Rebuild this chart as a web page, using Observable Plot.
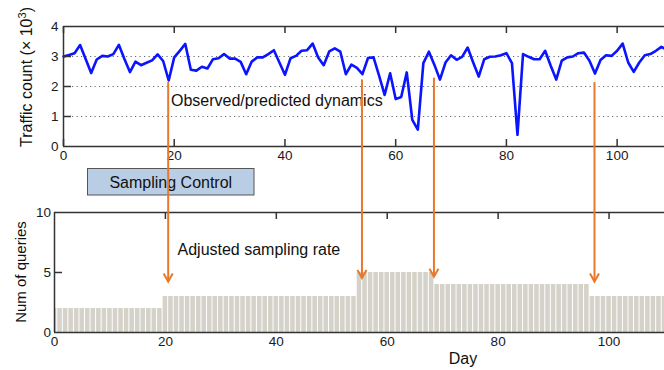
<!DOCTYPE html>
<html><head><meta charset="utf-8">
<script src="https://cdn.jsdelivr.net/npm/d3@7"></script>
<script src="https://cdn.jsdelivr.net/npm/@observablehq/plot@0.6"></script>
<style>
html,body{margin:0;padding:0;background:#fff;overflow:hidden;}
#wrap{position:relative;width:664px;height:370px;overflow:hidden;font-family:"Liberation Sans",Arial,sans-serif;}
#wrap > .layer{position:absolute;left:0;}
</style></head><body><div id="wrap"></div>
<script>
// ---- data ----
// traffic count (x10^3), one value per day starting at day 0
const traffic = [
  3.00, 3.05, 3.11, 3.38, 2.92, 2.45, 2.90, 3.02, 3.00, 3.08,
  3.39, 2.92, 2.48, 2.83, 2.71, 2.79, 2.87, 3.07, 2.85, 2.20,
  2.97, 3.19, 3.42, 2.56, 2.53, 2.66, 2.60, 2.91, 2.94, 3.08,
  2.93, 2.93, 2.82, 2.41, 2.83, 2.97, 2.97, 3.08, 3.21, 2.80,
  2.39, 2.94, 3.02, 3.19, 3.21, 3.43, 2.97, 2.71, 3.17, 3.27,
  3.16, 2.41, 2.73, 2.62, 2.41, 2.95, 2.97, 2.36, 1.72, 2.44,
  1.58, 1.65, 2.47, 0.89, 0.56, 2.78, 3.16, 2.72, 2.23, 2.80,
  3.04, 2.89, 2.99, 3.30, 2.80, 2.33, 2.91, 2.99, 3.00, 3.04,
  3.11, 2.78, 0.39, 3.08, 2.99, 2.91, 2.91, 3.19, 2.69, 2.23,
  2.86, 2.97, 3.00, 3.11, 3.13, 2.86, 2.43, 2.88, 3.04, 3.02,
  3.19, 3.43, 2.80, 2.49, 2.80, 3.04, 3.08, 3.19, 3.32, 3.22
];
// number of queries per day (adjusted sampling rate), day 0 .. 110
const queries = [
  2,2,2,2,2,2,2,2,2,2, 2,2,2,2,2,2,2,2,2,2,
  3,3,3,3,3,3,3,3,3,3, 3,3,3,3,3,3,3,3,3,3,
  3,3,3,3,3,3,3,3,3,3, 3,3,3,3,3,5,5,5,5,5,
  5,5,5,5,5,5,5,5,5,4, 4,4,4,4,4,4,4,4,4,4,
  4,4,4,4,4,4,4,4,4,4, 4,4,4,4,4,4,4,3,3,3,
  3,3,3,3,3,3,3,3,3,3, 3
];
const xTicks = [0, 20, 40, 60, 80, 100];
const topYTicks = [0, 1, 2, 3, 4];
const topGrid = [1, 2, 3];
const bottomYTicks = [0, 5, 10];
// control arrows: day in top chart, start value (top chart), tip value (bottom chart)
const arrowDays = [19, 54, 67, 96];
const arrowFrom = [2.13, 2.22, 2.28, 2.13];
const arrowTo = [4.2, 4.5, 4.6, 4.2];

const labels = {
  topYMain: "Traffic count (× 10",
  topYSup: "3",
  topYEnd: ")",
  bottomY: "Num of queries",
  x: "Day",
  observed: "Observed/predicted dynamics",
  adjusted: "Adjusted sampling rate",
  control: "Sampling Control"
};

const FONT = '"Liberation Sans", Arial, sans-serif';
const AX = "#333";
const ORANGE = "#e8782a";
const intFmt = d => String(d);

const trafficData = traffic.map((v, i) => ({day: i, v}));
const queryData = queries.map((n, i) => ({day: i, n}));

const TOP_OFFSET = 0, BOTTOM_OFFSET = 200;
const TICK = 7;

// top chart geometry
const T = {width: 672, height: 170, ml: 63, mr: 0, mt: 26, mb: 24};
const Tin = {w: T.width - T.ml - T.mr, h: T.height - T.mt - T.mb};
const topPlot = Plot.plot({
  width: T.width, height: T.height,
  marginLeft: T.ml, marginRight: T.mr, marginTop: T.mt, marginBottom: T.mb,
  style: {fontFamily: FONT, fontSize: "13px", color: "#1a1a1a", maxWidth: "none", background: "transparent", overflow: "visible"},
  x: {domain: [0, 110], label: null},
  y: {domain: [0, 4], label: null},
  marks: [
    Plot.ruleY(topGrid, {stroke: "#666", strokeDasharray: "1.2,3.3", strokeWidth: 1}),
    Plot.line(trafficData, {x: "day", y: "v", stroke: "#0a14ff", strokeWidth: 2.6}),
    Plot.tickX(xTicks, {x: d => d, insetTop: Tin.h - TICK, stroke: AX, strokeWidth: 1.5}),
    Plot.tickX(xTicks, {x: d => d, insetBottom: Tin.h - TICK, stroke: AX, strokeWidth: 1.5}),
    Plot.tickY(topGrid, {y: d => d, insetRight: Tin.w - 8, stroke: AX, strokeWidth: 1.5}),
    Plot.ruleY([0, 4], {stroke: AX, strokeWidth: 1.5}),
    Plot.ruleX([0], {stroke: AX, strokeWidth: 1.5}),
    Plot.axisX({anchor: "bottom", ticks: xTicks, tickSize: 0, tickPadding: 4, fontSize: 13.5, tickFormat: intFmt}),
    Plot.axisY({anchor: "left", ticks: topYTicks, tickSize: 0, tickPadding: 5, fontSize: 13.5, tickFormat: intFmt})
  ]
});

// bottom chart geometry
const B = {width: 664, height: 170, ml: 54, mr: 0, mt: 12, mb: 38};
const Bin = {w: B.width - B.ml - B.mr, h: B.height - B.mt - B.mb};
const bottomPlot = Plot.plot({
  width: B.width, height: B.height,
  marginLeft: B.ml, marginRight: B.mr, marginTop: B.mt, marginBottom: B.mb,
  style: {fontFamily: FONT, fontSize: "13px", color: "#1a1a1a", maxWidth: "none", background: "transparent", overflow: "visible"},
  x: {domain: [0, 110], label: null},
  y: {domain: [0, 10], label: null},
  marks: [
    Plot.rectY(queryData, {x1: d => d.day - 0.5, x2: d => d.day + 0.5, y: "n", fill: "#d5d2ca", insetLeft: 0.5, insetRight: 0.5, clip: true}),
    Plot.tickX(xTicks.slice(1), {x: d => d, insetBottom: Bin.h - TICK, stroke: AX, strokeWidth: 1.5}),
    Plot.tickY([5], {y: d => d, insetRight: Bin.w - 8, stroke: AX, strokeWidth: 1.5}),
    Plot.ruleY([0, 10], {stroke: AX, strokeWidth: 1.5}),
    Plot.ruleX([0], {stroke: AX, strokeWidth: 1.5}),
    Plot.axisX({anchor: "bottom", ticks: xTicks, tickSize: 0, tickPadding: 4, fontSize: 13.5, tickFormat: intFmt}),
    Plot.axisY({anchor: "left", ticks: bottomYTicks, tickSize: 0, tickPadding: 3.5, fontSize: 13.5, tickFormat: intFmt})
  ]
});

const wrap = document.getElementById("wrap");
topPlot.classList.add("layer"); topPlot.style.top = TOP_OFFSET + "px";
bottomPlot.classList.add("layer"); bottomPlot.style.top = BOTTOM_OFFSET + "px";
wrap.appendChild(topPlot);
wrap.appendChild(bottomPlot);

// overlay for annotations
const svg = d3.select(wrap).append("svg").attr("class", "layer")
  .attr("width", 664).attr("height", 370).style("top", "0px")
  .style("font-family", FONT).style("overflow", "visible");

const tx = topPlot.scale("x"), ty = topPlot.scale("y");
const by = bottomPlot.scale("y");

// axis titles
const tt = svg.append("text").attr("transform", "translate(32,77) rotate(-90)")
  .attr("text-anchor", "middle").attr("font-size", 16).attr("fill", "#111");
tt.append("tspan").text(labels.topYMain);
tt.append("tspan").attr("dy", -6).attr("font-size", 11).text(labels.topYSup);
tt.append("tspan").attr("dy", 6).text(labels.topYEnd);
svg.append("text").attr("transform", "translate(26,272) rotate(-90)")
  .attr("text-anchor", "middle").attr("font-size", 15).attr("fill", "#111").text(labels.bottomY);
svg.append("text").attr("x", 463).attr("y", 364)
  .attr("text-anchor", "middle").attr("font-size", 16).attr("fill", "#111").text(labels.x);

// annotations
svg.append("text").attr("x", 171).attr("y", 106).attr("font-size", 16).attr("fill", "#111").text(labels.observed);
svg.append("text").attr("x", 177.5).attr("y", 255).attr("font-size", 16).attr("fill", "#111").text(labels.adjusted);

svg.append("rect").attr("x", 87.5).attr("y", 168.5).attr("width", 166.5).attr("height", 26.5)
  .attr("fill", "#b9cde5").attr("stroke", "#555").attr("stroke-width", 1);
svg.append("text").attr("x", 170.8).attr("y", 188).attr("text-anchor", "middle")
  .attr("font-size", 16).attr("fill", "#111").text(labels.control);

// arrows
arrowDays.forEach((d, i) => {
  const x = tx.apply(d);
  const y1 = TOP_OFFSET + ty.apply(arrowFrom[i]);
  const y2 = BOTTOM_OFFSET + by.apply(arrowTo[i]);
  svg.append("line").attr("x1", x).attr("x2", x).attr("y1", y1).attr("y2", y2 - 1)
    .attr("stroke", ORANGE).attr("stroke-width", 2);
  svg.append("path").attr("d", `M${x - 4.5},${y2 - 8}L${x},${y2}L${x + 4.5},${y2 - 8}`)
    .attr("fill", "none").attr("stroke", ORANGE).attr("stroke-width", 2);
});
</script>
</body></html>
